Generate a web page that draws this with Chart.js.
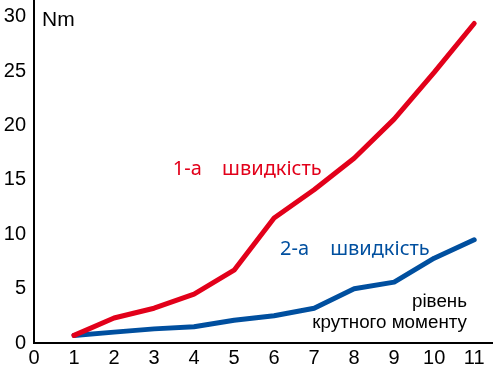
<!DOCTYPE html>
<html>
<head>
<meta charset="utf-8">
<script src="https://cdn.jsdelivr.net/npm/chart.js@4/dist/chart.umd.min.js"></script>
<style>
  html, body { margin: 0; padding: 0; background: #fff; }
  #wrap { width: 493px; height: 371px; }
</style>
</head>
<body>
<div id="wrap"><canvas id="torqueChart" width="493" height="371"></canvas></div>
<script>
  // --- Data ---
  const speeds = [1, 2, 3, 4, 5, 6, 7, 8, 9, 10, 11];
  const firstGear = [0.7, 2.3, 3.2, 4.5, 6.7, 11.5, 14.1, 17.0, 20.6, 24.9, 29.4];
  const secondGear = [0.7, 1.0, 1.3, 1.5, 2.1, 2.5, 3.2, 5.0, 5.6, 7.8, 9.5];
  const xTicks = [0, 1, 2, 3, 4, 5, 6, 7, 8, 9, 10, 11];
  const yTicks = [0, 5, 10, 15, 20, 25, 30];
  const unitLabel = 'Nm';
  const firstLabel = ['1-а', 'швидкість'];
  const secondLabel = ['2-а', 'швидкість'];
  const levelLabel = ['рівень', 'крутного моменту'];

  const RED = '#e2001a';
  const BLUE = '#004f9f';
  const tickFont = { family: '"Liberation Sans", Arial, sans-serif', size: 20 };

  // text placed on the plot (drawn with the chart's scales)
  const labelsPlugin = {
    id: 'labels',
    afterDatasetsDraw(chart) {
      const { ctx, chartArea, scales: { x, y } } = chart;
      ctx.save();
      ctx.textBaseline = 'alphabetic';

      ctx.fillStyle = '#000';
      ctx.font = '21px "Liberation Sans", Arial, sans-serif';
      ctx.textAlign = 'left';
      ctx.fillText(unitLabel, chartArea.left + 8, chartArea.top + 26);

      ctx.font = '20px "Noto Sans", sans-serif';
      ctx.fillStyle = RED;
      ctx.fillText(firstLabel[0], x.getPixelForValue(3.47), y.getPixelForValue(15.45));
      ctx.fillText(firstLabel[1], x.getPixelForValue(4.7), y.getPixelForValue(15.45));
      ctx.fillStyle = BLUE;
      ctx.fillText(secondLabel[0], x.getPixelForValue(6.15), y.getPixelForValue(8.1));
      ctx.fillText(secondLabel[1], x.getPixelForValue(7.4), y.getPixelForValue(8.1));

      ctx.fillStyle = '#000';
      ctx.font = '18.8px "Liberation Sans", Arial, sans-serif';
      ctx.textAlign = 'right';
      ctx.fillText(levelLabel[0], x.getPixelForValue(10.82), y.getPixelForValue(3.3));
      ctx.fillText(levelLabel[1], x.getPixelForValue(10.82), y.getPixelForValue(1.38));
      ctx.restore();
    }
  };

  const ctx = document.getElementById('torqueChart').getContext('2d');
  new Chart(ctx, {
    type: 'line',
    data: {
      datasets: [
        {
          label: firstLabel.join(' '),
          data: speeds.map((s, i) => ({ x: s, y: firstGear[i] })),
          borderColor: RED,
          borderWidth: 5,
          borderCapStyle: 'round',
          borderJoinStyle: 'round',
          pointRadius: 0,
          tension: 0
        },
        {
          label: secondLabel.join(' '),
          data: speeds.map((s, i) => ({ x: s, y: secondGear[i] })),
          borderColor: BLUE,
          borderWidth: 5,
          borderCapStyle: 'round',
          borderJoinStyle: 'round',
          pointRadius: 0,
          tension: 0
        }
      ]
    },
    options: {
      responsive: false,
      animation: false,
      layout: { padding: 0 },
      plugins: { legend: { display: false }, tooltip: { enabled: false } },
      scales: {
        x: {
          type: 'linear',
          min: 0,
          max: 11.47,
          grid: { display: false, drawTicks: false },
          border: { display: true, color: '#000', width: 2 },
          ticks: { color: '#000', font: tickFont, padding: 3, maxRotation: 0, autoSkip: false },
          afterBuildTicks: (s) => { s.ticks = xTicks.map(v => ({ value: v })); },
          afterFit: (s) => { s.height = 28; s.paddingLeft = 0; s.paddingRight = 0; }
        },
        y: {
          min: 0,
          max: 31.56,
          grid: { display: false, drawTicks: false },
          border: { display: true, color: '#000', width: 2 },
          ticks: { color: '#000', font: tickFont, padding: 8, autoSkip: false },
          afterBuildTicks: (s) => { s.ticks = yTicks.map(v => ({ value: v })); },
          afterFit: (s) => { s.width = 34; s.paddingTop = 0; s.paddingBottom = 0; }
        }
      }
    },
    plugins: [labelsPlugin]
  });
</script>
</body>
</html>
